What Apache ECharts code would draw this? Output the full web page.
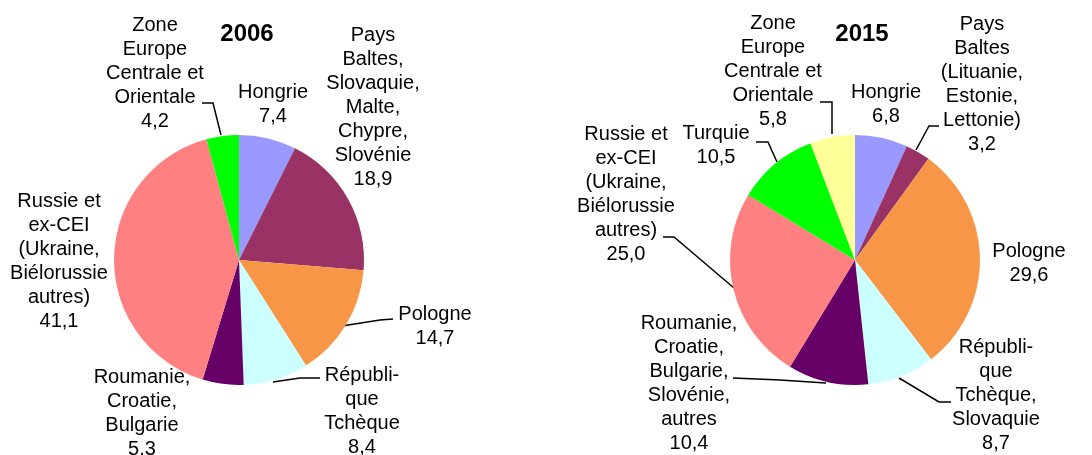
<!DOCTYPE html>
<html>
<head>
<meta charset="utf-8">
<script src="https://cdn.jsdelivr.net/npm/echarts@6/dist/echarts.min.js"></script>
<style>
  html, body { margin: 0; padding: 0; background: #fff; }
  #chart { width: 1092px; height: 455px; }
</style>
</head>
<body>
<div id="chart"></div>
<script>
// 2006
const names2006 = [
  "Hongrie",
  "Pays\nBaltes,\nSlovaquie,\nMalte,\nChypre,\nSlovénie",
  "Pologne",
  "Républi-\nque\nTchèque",
  "Roumanie,\nCroatie,\nBulgarie",
  "Russie et\nex-CEI\n(Ukraine,\nBiélorussie\nautres)",
  "Zone\nEurope\nCentrale et\nOrientale"
];
const values2006 = [7.4, 18.9, 14.7, 8.4, 5.3, 41.1, 4.2];
const colors2006 = ["#9999ff", "#993366", "#f79646", "#ccffff", "#660066", "#ff8080", "#00ff00"];

// 2015
const names2015 = [
  "Hongrie",
  "Pays\nBaltes\n(Lituanie,\nEstonie,\nLettonie)",
  "Pologne",
  "Républi-\nque\nTchèque,\nSlovaquie",
  "Roumanie,\nCroatie,\nBulgarie,\nSlovénie,\nautres",
  "Russie et\nex-CEI\n(Ukraine,\nBiélorussie\nautres)",
  "Turquie",
  "Zone\nEurope\nCentrale et\nOrientale"
];
const values2015 = [6.8, 3.2, 29.6, 8.7, 10.4, 25.0, 10.5, 5.8];
const colors2015 = ["#9999ff", "#993366", "#f79646", "#ccffff", "#660066", "#ff8080", "#00ff00", "#ffff99"];

// label placement (centre of each text block) and leader lines (null = no line)
const labelPos2006 = [[273, 104], [373, 107], [435, 326], [362, 411], [142, 413], [59, 261], [155, 73]];
const leaders2006 = [
  null,
  null,
  [[342, 326], [380, 320], [393, 319]],
  [[273, 382], [300, 378], [320, 378]],
  null,
  null,
  [[221, 135], [213, 103], [202, 103]]
];
const labelPos2015 = [[886, 104], [982, 84], [1029, 263], [996, 395], [689, 383], [626, 194], [716, 145], [773, 71]];
const leaders2015 = [
  null,
  [[916, 150], [929, 126], [939, 126]],
  null,
  [[899, 378], [939, 402], [951, 402]],
  [[826, 383], [780, 380], [733, 378]],
  [[734, 288], [674, 237], [663, 237]],
  [[777, 162], [768, 142], [756, 142]],
  [[832, 134], [832, 102], [820, 102]]
];

const font = "'Liberation Sans', Arial, sans-serif";
const fmt = (p) => p.name + "\n" + p.value.toFixed(1).replace(".", ",");

function buildData(names, values, colors, leaders) {
  return names.map((n, i) => ({
    name: n,
    value: values[i],
    itemStyle: { color: colors[i] },
    labelLine: { show: leaders[i] != null }
  }));
}

function pieSeries(center, names, values, colors, leaders, pos) {
  return {
    type: "pie",
    center: center,
    radius: 125,
    startAngle: 90,
    clockwise: true,
    animation: false,
    silent: true,
    avoidLabelOverlap: false,
    itemStyle: { borderWidth: 0 },
    label: {
      show: true,
      formatter: fmt,
      fontFamily: font,
      fontSize: 20,
      lineHeight: 24,
      color: "#000",
      align: "center"
    },
    labelLine: {
      show: true,
      smooth: false,
      lineStyle: { color: "#000", width: 1.5 }
    },
    labelLayout: function (params) {
      const i = params.dataIndex;
      const out = { x: pos[i][0], y: pos[i][1], align: "center", verticalAlign: "middle" };
      if (leaders[i]) out.labelLinePoints = leaders[i];
      return out;
    },
    data: buildData(names, values, colors, leaders)
  };
}

const chart = echarts.init(document.getElementById("chart"));
chart.setOption({
  backgroundColor: "#fff",
  title: [
    { text: "2006", left: 247, top: 22, textAlign: "center", padding: 0,
      textStyle: { fontFamily: font, fontSize: 24, fontWeight: "bold", color: "#000" } },
    { text: "2015", left: 862, top: 22, textAlign: "center", padding: 0,
      textStyle: { fontFamily: font, fontSize: 24, fontWeight: "bold", color: "#000" } }
  ],
  series: [
    pieSeries([239, 260], names2006, values2006, colors2006, leaders2006, labelPos2006),
    pieSeries([855, 260], names2015, values2015, colors2015, leaders2015, labelPos2015)
  ]
});
</script>
</body>
</html>
